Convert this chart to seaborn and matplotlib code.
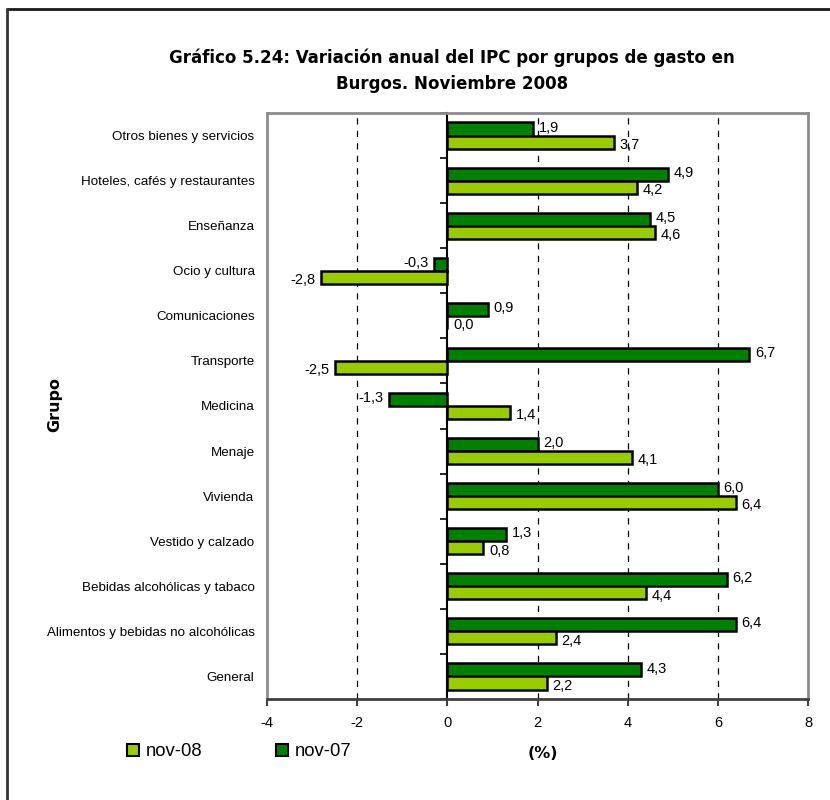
import matplotlib
matplotlib.use("Agg")
import matplotlib.pyplot as plt
from matplotlib.patches import Patch
from matplotlib.lines import Line2D
import seaborn as sns
import pandas as pd

# Expenditure groups, top to bottom
grupos = [
    "Otros bienes y servicios",
    "Hoteles, cafés y restaurantes",
    "Enseñanza",
    "Ocio y cultura",
    "Comunicaciones",
    "Transporte",
    "Medicina",
    "Menaje",
    "Vivienda",
    "Vestido y calzado",
    "Bebidas alcohólicas y tabaco",
    "Alimentos y bebidas no alcohólicas",
    "General",
]
nov_07 = [1.9, 4.9, 4.5, -0.3, 0.9, 6.7, -1.3, 2.0, 6.0, 1.3, 6.2, 6.4, 4.3]
nov_08 = [3.7, 4.2, 4.6, -2.8, 0.0, -2.5, 1.4, 4.1, 6.4, 0.8, 4.4, 2.4, 2.2]
series = ["nov-07", "nov-08"]
x_ticks = [-4, -2, 0, 2, 4, 6, 8]

DARK = "#008000"
LIGHT = "#99CC00"

df = pd.DataFrame({
    "Grupo": grupos * 2,
    "Serie": [series[0]] * len(grupos) + [series[1]] * len(grupos),
    "Valor": nov_07 + nov_08,
})

sns.set_theme(style="white")
plt.rcParams["font.family"] = ["Liberation Sans", "DejaVu Sans"]
for key in ["text.color", "axes.labelcolor", "xtick.color", "ytick.color"]:
    plt.rcParams[key] = "black"

fig = plt.figure(figsize=(8.3, 8.0), dpi=100)
ax = fig.add_axes([267 / 830, 1 - 699 / 800, 541 / 830, 586 / 800])

sns.barplot(
    data=df, y="Grupo", x="Valor", hue="Serie", order=grupos,
    hue_order=series, palette=[DARK, LIGHT], orient="h",
    width=0.58, gap=0, edgecolor="black", linewidth=1.8,
    saturation=1, legend=False, ax=ax, errorbar=None,
)

ax.set_xlim(x_ticks[0], x_ticks[-1])
ax.set_ylim(len(grupos) - 0.5, -0.5)
ax.set_xticks(x_ticks)
ax.set_xticklabels([str(t) for t in x_ticks], fontsize=10.5)
ax.tick_params(axis="x", direction="out", length=5, width=1.5,
               color="#404040", labelcolor="black", pad=7, bottom=True)
ax.tick_params(axis="y", length=0, pad=9, labelsize=9.6, labelcolor="black")
ax.set_xlabel("")
ax.set_ylabel("")

# dashed vertical gridlines
for t in x_ticks[1:-1]:
    if t != 0:
        ax.axvline(t, color="black", lw=0.9, ls=(0, (5, 5)), zorder=0)

for side in ["top", "right", "left"]:
    ax.spines[side].set_color("#8c8c8c")
    ax.spines[side].set_linewidth(2)
ax.spines["bottom"].set_color("#404040")
ax.spines["bottom"].set_linewidth(2)

# category axis drawn at zero with ticks between groups
zero_pos = (0 - x_ticks[0]) / (x_ticks[-1] - x_ticks[0])
sec = ax.secondary_yaxis(zero_pos)
sec.set_yticks([i - 0.5 for i in range(len(grupos) + 1)])
sec.set_yticklabels([])
sec.tick_params(length=5, width=1.2, color="black", direction="out")
sec.spines["left"].set_color("black")
sec.spines["left"].set_linewidth(1.5)

# value labels at the bar ends
for cont, dy in zip(ax.containers, [1, -2]):
    for bar in cont:
        v = bar.get_width()
        yc = bar.get_y() + bar.get_height() / 2
        dx = 4 if v >= 0 else -4
        ax.annotate(f"{v:.1f}".replace(".", ","), (v, yc),
                    xytext=(dx, dy), textcoords="offset points",
                    ha="left" if v >= 0 else "right", va="center",
                    fontsize=10.5, color="black")

fig.text(452 / 830, 1 - 71 / 800,
         "Gráfico 5.24: Variación anual del IPC por grupos de gasto en\nBurgos. Noviembre 2008",
         ha="center", va="center", fontsize=13.3, fontweight="bold",
         family=["DejaVu Sans"], fontstretch="condensed", linespacing=1.6)
fig.text(543 / 830, 1 - 753 / 800, "(%)", ha="center", va="center",
         fontsize=11.5, fontweight="bold", family=["DejaVu Sans"])
fig.text(55 / 830, 1 - 405 / 800, "Grupo", ha="center", va="center",
         rotation=90, fontsize=11.5, fontweight="bold", family=["DejaVu Sans"])

handles = [Patch(facecolor=LIGHT, edgecolor="black", lw=1.5, label=series[1]),
           Patch(facecolor=DARK, edgecolor="black", lw=1.5, label=series[0])]
fig.legend(handles=handles, loc="center left", bbox_to_anchor=(127 / 830, 1 - 752 / 800),
           ncol=2, frameon=False, fontsize=13.3, handlelength=0.65, handleheight=0.65,
           handletextpad=0.35, columnspacing=4.0, borderaxespad=0, borderpad=0)

# outer frame (top and left edges)
fig.add_artist(Line2D([7 / 830, 1], [1 - 9 / 800, 1 - 9 / 800], color="#1a1a1a", lw=2))
fig.add_artist(Line2D([7 / 830, 7 / 830], [1 - 9 / 800, 0], color="#333333", lw=2))

fig.savefig("out.png", dpi=100, facecolor="white")
